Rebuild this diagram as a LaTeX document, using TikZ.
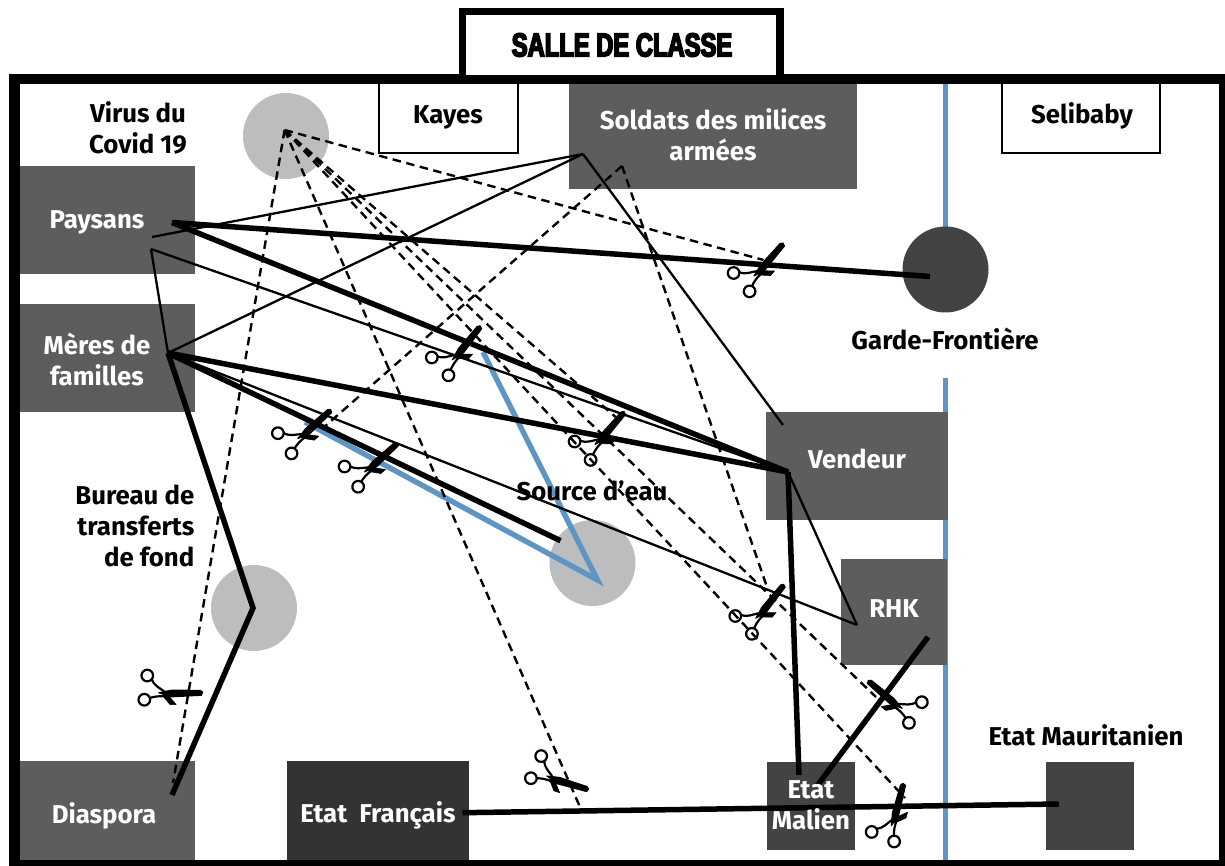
\documentclass[tikz,border=0pt]{standalone}
\usepackage{fontspec}
\setmainfont{Fira Sans}
\newfontfamily\titlefont[FakeStretch=0.72,FakeBold=5]{Liberation Sans}
\usetikzlibrary{positioning}
\definecolor{boxgray}{HTML}{5D5D5F}
\definecolor{dark}{HTML}{434345}
\definecolor{darker}{HTML}{333334}
\definecolor{disc}{HTML}{BCBDBF}
\definecolor{border}{HTML}{5F95C3}
\tikzstyle{box} = [fill=boxgray, rectangle, inner sep=0pt]
\tikzstyle{place} = [draw, fill=white, rectangle, line width=2pt, inner sep=0pt]
\tikzstyle{dot} = [fill=disc, circle, inner sep=0pt, minimum size=86]
\tikzstyle{txt} = [font=\bfseries\fontsize{25.8}{31}\selectfont, align=center, inner sep=0pt]
\tikzstyle{wtxt} = [txt, text=white]
\tikzstyle{thinlink} = [line width=2.3pt]
\tikzstyle{thicklink} = [line width=5.5pt]
\tikzstyle{dashlink} = [line width=2.4pt, dash pattern=on 8.5pt off 5.5pt]
\tikzstyle{bluelink} = [draw=border, line width=5.4pt]
\tikzset{snip/.pic={
    \filldraw[line width=1pt, line join=round] (-8,8) -- (-1.5,-3) -- (18,-24.5) -- (21,-25) -- (22.5,-22) -- (3.5,1.5) -- cycle;
    \filldraw[line width=.6pt, line join=round] (-5,2.5) -- (12.5,3) -- (8.5,7.5) -- (-3.5,7) -- cycle;
    \draw[line width=2.2pt] (-28.4,5) circle (5.8);
    \draw[line width=2.2pt] (-12.4,23.4) circle (5.8);
    \draw[line width=2.2pt] (-23,4) .. controls (-16,7) and (-12,4) .. (-4,3);
    \draw[line width=2.2pt] (-10,18) .. controls (-8,14) and (-6,10) .. (0,5);
}}

\begin{document}
\begin{tikzpicture}[x=1pt, y=-1pt]
    \useasboundingbox (0,0) rectangle (1225,866);
    \draw[bluelink] (945.7,84) -- (945.7,227);
    \draw[bluelink] (945.7,378) -- (945.7,860);

    \node[place, minimum width=139, minimum height=70] (kayes) at (448.5,118) {};
    \node[place, minimum width=158, minimum height=70] (selibaby) at (1081,118) {};
    \node[box, minimum width=288, minimum height=105] (soldats) at (713,136.5) {};
    \node[box, minimum width=175, minimum height=108] (paysans) at (107,220) {};
    \node[box, minimum width=175, minimum height=108] (meres) at (107,358) {};
    \node[box, minimum width=175, minimum height=99] (diaspora) at (107,810.5) {};
    \node[box, fill=darker, minimum width=181.5, minimum height=99] (francais) at (378,810.5) {};
    \node[box, minimum width=182, minimum height=108] (vendeur) at (857,466) {};
    \node[box, minimum width=106, minimum height=106] (rhk) at (894,612) {};
    \node[box, fill=dark, minimum width=88, minimum height=88] (malien) at (811,806) {};
    \node[box, fill=dark, minimum width=88, minimum height=88] (mauritanien) at (1090,806) {};

    \node[dot] (virus) at (286,136) {};
    \node[dot, fill=dark] (garde) at (945.5,269.5) {};
    \node[dot] (bureau) at (254,608) {};
    \node[dot] (source) at (592.5,563) {};

    \node[draw, rectangle, line width=10.5pt, minimum width=1210, minimum height=786] (salle) at (619.5,472) {};
    \node[draw, fill=white, rectangle, line width=7.5pt, minimum width=317.7, minimum height=67.3] (titre) at (621.2,45.3) {};

    \coordinate (virusA) at (284.6,130);
    \coordinate (soldatsA) at (583,154);
    \coordinate (soldatsB) at (622,166);
    \coordinate (paysansA) at (152,237);
    \coordinate (paysansB) at (151,249);
    \coordinate (paysansC) at (172,222.5);
    \coordinate (meresA) at (168,353);
    \coordinate (vendeurA) at (783,425);
    \coordinate (vendeurB) at (788,472);
    \coordinate (rhkA) at (857,625);
    \coordinate (rhkB) at (928,637);
    \coordinate (gardeA) at (930,276.5);
    \coordinate (sourceA) at (560.5,540.7);
    \coordinate (sourceB) at (597.5,580);
    \coordinate (bureauA) at (253,608);
    \coordinate (diasporaA) at (172,795);
    \coordinate (diasporaB) at (173,783);
    \coordinate (malienA) at (799,775);
    \coordinate (malienB) at (817,786);
    \coordinate (francaisA) at (462.5,812.7);
    \coordinate (mauritanienA) at (1059,804);
    \coordinate (cutA) at (483,352);
    \coordinate (cutB) at (305,422);
    \coordinate (cutC) at (763.5,260);
    \coordinate (cutD) at (615.6,417);
    \coordinate (cutE) at (580,807);
    \coordinate (cutF) at (905,798);
    \coordinate (cutG) at (876,697);
    \coordinate (cutH) at (323,428);
    \coordinate (cutI) at (768,590);

    \draw[bluelink] (cutA) -- (sourceB) -- (cutB);

    \draw[dashlink] (virusA) -- (diasporaB);
    \draw[dashlink] (virusA) -- (cutE);
    \draw[dashlink] (virusA) -- (cutD);
    \draw[dashlink] (virusA) -- (cutF);
    \draw[dashlink] (virusA) -- (cutG);
    \draw[dashlink] (virusA) -- (cutC);
    \draw[dashlink] (soldatsB) -- (cutH);
    \draw[dashlink] (soldatsB) -- (cutI);

    \draw[thinlink] (paysansA) -- (soldatsA);
    \draw[thinlink] (meresA) -- (soldatsA);
    \draw[thinlink] (soldatsA) -- (vendeurA);
    \draw[thinlink] (paysansB) -- (meresA);
    \draw[thinlink] (paysansB) -- (vendeurB);
    \draw[thinlink] (meresA) -- (rhkA);
    \draw[thinlink] (vendeurB) -- (rhkA);

    \draw[thicklink] (paysansC) -- (gardeA);
    \draw[thicklink] (paysansC) -- (vendeurB);
    \draw[thicklink] (meresA) -- (vendeurB);
    \draw[thicklink] (meresA) -- (sourceA);
    \draw[thicklink] (meresA) -- (bureauA) -- (diasporaA);
    \draw[thicklink] (vendeurB) -- (malienA);
    \draw[thicklink] (malienB) -- (rhkB);
    \draw[thicklink] (francaisA) -- (mauritanienA);

    \pic at (762,268) {snip};
    \pic[rotate=2] at (460,351.5) {snip};
    \pic at (603,436.5) {snip};
    \pic[rotate=-7] at (306.7,431.7) {snip};
    \pic[rotate=-7] at (373.3,465) {snip};
    \pic[rotate=2] at (763.5,610) {snip};
    \pic[xscale=-1, rotate=-9] at (893,701.7) {snip};
    \pic[rotate=26] at (895,815) {snip};
    \pic[rotate=-48] at (170,693.3) {snip};
    \pic[rotate=-66] at (557.3,780) {snip};

    \node[font=\titlefont\bfseries\fontsize{33}{33}\selectfont] (titretxt) at (622,45) {SALLE DE CLASSE};
    \node[txt] (kayestxt) at (448,117) {Kayes};
    \node[txt] (selibabytxt) at (1082,116) {Selibaby};
    \node[txt] (virustxt) at (138,127.5) {Virus du\\Covid 19};
    \node[wtxt] (soldatstxt) at (713,135) {Soldats des milices\\armées};
    \node[wtxt] (paysanstxt) at (97,222) {Paysans};
    \node[wtxt] (merestxt) at (97,359.5) {Mères de\\familles};
    \node[wtxt] (diasporatxt) at (104,816) {Diaspora};
    \node[wtxt] (francaistxt) at (378,815) {Etat~~Français};
    \node[wtxt] (vendeurtxt) at (857,459) {Vendeur};
    \node[wtxt] (rhktxt) at (894,609) {RHK};
    \node[wtxt] (malientxt) at (811,805) {Etat\\Malien};
    \node[txt, anchor=east, align=right] (bureautxt) at (194.5,525.5) {Bureau de\\transferts\\de fond};
    \node[txt] (gardetxt) at (945,339) {Garde-Frontière};
    \node[txt] (sourcetxt) at (592,491) {Source d’eau};
    \node[txt] (mauritaniantxt) at (1086,735) {Etat Mauritanien};
\end{tikzpicture}
\end{document}
